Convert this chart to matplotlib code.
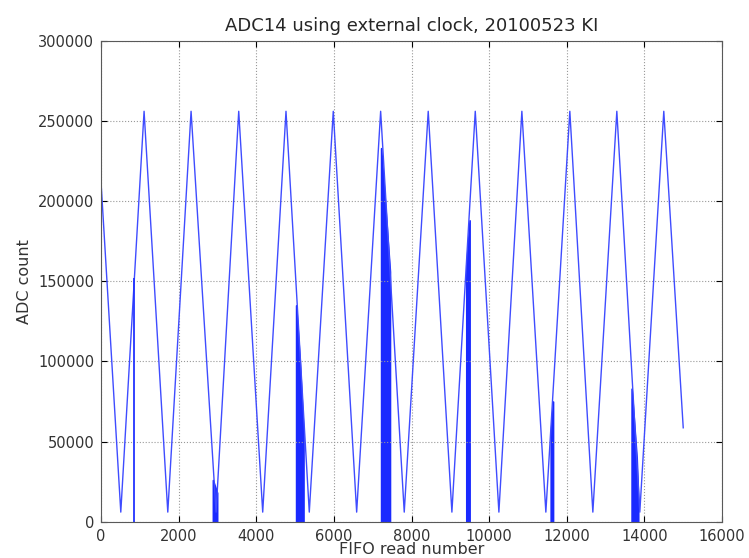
import numpy as np
import matplotlib
matplotlib.use("Agg")
import matplotlib.pyplot as plt

# triangle-wave corner points (FIFO read number, ADC count)
wave_x = [0, 507, 1107, 1718, 2318, 2962, 3546, 4164, 4764, 5364, 5982, 6585,
          7203, 7811, 8429, 9039, 9641, 10250, 10842, 11460, 12078, 12671,
          13289, 13881, 14499, 15000]
wave_y = [211000, 6000, 256000, 6000, 256000, 6000, 256000, 6000, 256000,
          6000, 256000, 6000, 256000, 6000, 256000, 6000, 256000, 6000,
          256000, 6000, 256000, 6000, 256000, 6000, 256000, 58600]

# single drop-out to zero
spike_x = [858]
spike_top = [152000]

# bursts of drop-outs (dense spikes to zero), outline of each burst
bursts = [
    ([2880, 2990], [26000, 18000]),
    ([5025, 5120, 5215], [135000, 100000, 55000]),
    ([7215, 7443], [233000, 156000]),
    ([9410, 9495], [160000, 188000]),
    ([11585, 11645], [55000, 75000]),
    ([13670, 13800, 13840], [83000, 40000, 15000]),
]

x_ticks = np.arange(0, 16001, 2000)
y_ticks = np.arange(0, 300001, 50000)

plt.rcParams["font.family"] = "DejaVu Sans"
fig = plt.figure(figsize=(7.49, 5.58), dpi=100)
ax = fig.add_axes([0.135, 0.065, 0.829, 0.862])

ax.plot(wave_x, wave_y, "-", color="#3f4cff", lw=1.0)
ax.vlines(spike_x, 0, spike_top, color="#2233ff", lw=1.3)
for bx, by in bursts:
    ax.fill_between(bx, 0, by, color="#1a2aff", lw=1.2, edgecolor="#1a2aff")

ax.set_xlim(0, 16000)
ax.set_ylim(0, 300000)
ax.set_xticks(x_ticks)
ax.set_yticks(y_ticks)
ax.tick_params(direction="in", top=True, right=True, labelsize=10.5,
               length=4, pad=5, labelcolor="0.2")
ax.grid(True, color="0.6", ls=":", lw=0.8)
for s in ax.spines.values():
    s.set_color("0.35")
ax.set_title("ADC14 using external clock, 20100523 KI", fontsize=13,
             pad=7, color="0.15")
ax.set_xlabel("FIFO read number", fontsize=11.5, labelpad=-1, color="0.2")
ax.set_ylabel("ADC count", fontsize=11.5, labelpad=4, color="0.2")

fig.savefig("out.png", dpi=100)
